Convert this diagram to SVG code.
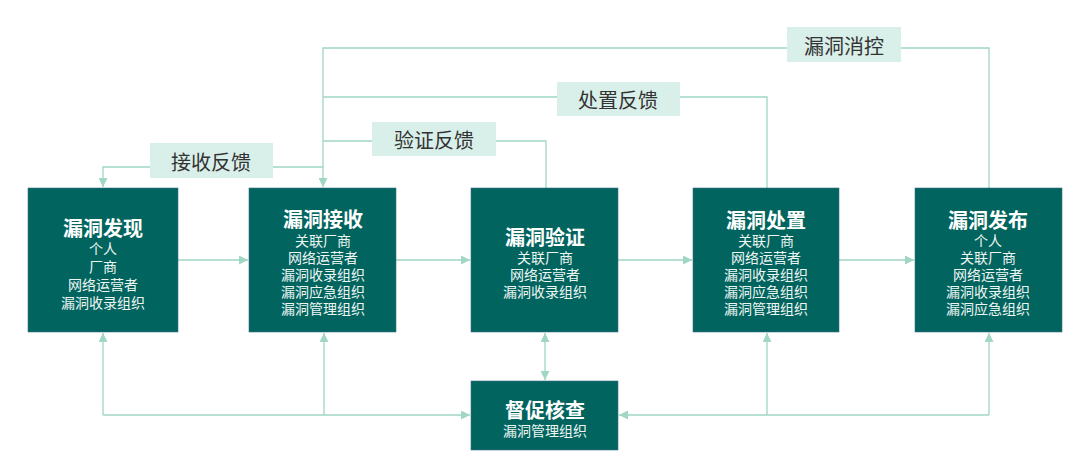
<svg xmlns="http://www.w3.org/2000/svg" width="1080" height="471" viewBox="0 0 1080 471">
<defs>
<marker id="ah" viewBox="0 0 10 10" refX="10" refY="5" markerWidth="9" markerHeight="9" markerUnits="userSpaceOnUse" orient="auto-start-reverse">
<path d="M0,0 L10,5 L0,10 z" fill="#9fd6c4"/>
</marker>
<style>
.box{fill:#02645e;stroke:#3f6f86;stroke-width:0.6}
.lbl{fill:#d9efe9}
.ttl{font-family:"Noto Sans CJK SC","Noto Sans",sans-serif;font-size:20px;font-weight:bold;fill:#ffffff;text-anchor:middle;dominant-baseline:central}
.sub{font-family:"Noto Sans CJK SC","Noto Sans",sans-serif;font-size:14px;fill:#eef6f4;text-anchor:middle;dominant-baseline:central}
.lt{font-family:"Noto Sans CJK SC","Noto Sans",sans-serif;font-size:20px;fill:#333333;text-anchor:middle;dominant-baseline:central}
.c{fill:none;stroke:#9fd6c4;stroke-width:1.3}
.a{marker-end:url(#ah)}
</style>
</defs>
<rect width="1080" height="471" fill="#ffffff"/>
<g id="connectors">
<path class="c a" d="M178,260 H248"/>
<path class="c a" d="M396,260 H470"/>
<path class="c a" d="M618,260 H692"/>
<path class="c a" d="M839,260 H914"/>
<path class="c a" d="M989,188 V48 H323 V187"/>
<path class="c" d="M767,188 V97 H323"/>
<path class="c" d="M546,188 V141 H323"/>
<path class="c a" d="M323,167 H103 V187"/>
<path class="c a" d="M103,415 V333"/>
<path class="c a" d="M103,415 H470"/>
<path class="c a" d="M324,415 V333"/>
<path class="c a" d="M989,415 H619"/>
<path class="c a" d="M767,415 V333"/>
<path class="c a" d="M989,415 V333"/>
<path class="c a" style="marker-start:url(#ah)" d="M545,333 V380"/>
</g>
<g id="label-xiaokong"><rect class="lbl" x="787" y="27" width="114" height="35"/><text class="lt" x="844" y="45">漏洞消控</text></g>
<g id="label-chuzhi"><rect class="lbl" x="557" y="82" width="123" height="34"/><text class="lt" x="618" y="99">处置反馈</text></g>
<g id="label-yanzheng"><rect class="lbl" x="372" y="122" width="124" height="34"/><text class="lt" x="434" y="139">验证反馈</text></g>
<g id="label-jieshou"><rect class="lbl" x="150" y="143" width="123" height="35"/><text class="lt" x="211" y="161">接收反馈</text></g>
<g id="node-faxian">
<rect class="box" x="28" y="188" width="150" height="144"/>
<text class="ttl" x="103" y="227">漏洞发现</text>
<text class="sub" x="103" y="248">个人</text>
<text class="sub" x="103" y="266">厂商</text>
<text class="sub" x="103" y="284">网络运营者</text>
<text class="sub" x="103" y="302">漏洞收录组织</text>
</g>
<g id="node-jieshou">
<rect class="box" x="249" y="188" width="147" height="144"/>
<text class="ttl" x="323" y="218">漏洞接收</text>
<text class="sub" x="323" y="240">关联厂商</text>
<text class="sub" x="323" y="257">网络运营者</text>
<text class="sub" x="323" y="274">漏洞收录组织</text>
<text class="sub" x="323" y="291">漏洞应急组织</text>
<text class="sub" x="323" y="308">漏洞管理组织</text>
</g>
<g id="node-yanzheng">
<rect class="box" x="471" y="188" width="147" height="144"/>
<text class="ttl" x="545" y="236">漏洞验证</text>
<text class="sub" x="545" y="257">关联厂商</text>
<text class="sub" x="545" y="274">网络运营者</text>
<text class="sub" x="545" y="291">漏洞收录组织</text>
</g>
<g id="node-chuzhi">
<rect class="box" x="693" y="188" width="146" height="144"/>
<text class="ttl" x="766" y="219">漏洞处置</text>
<text class="sub" x="766" y="240">关联厂商</text>
<text class="sub" x="766" y="257">网络运营者</text>
<text class="sub" x="766" y="274">漏洞收录组织</text>
<text class="sub" x="766" y="291">漏洞应急组织</text>
<text class="sub" x="766" y="308">漏洞管理组织</text>
</g>
<g id="node-fabu">
<rect class="box" x="915" y="188" width="147" height="144"/>
<text class="ttl" x="988" y="219">漏洞发布</text>
<text class="sub" x="988" y="240">个人</text>
<text class="sub" x="988" y="257">关联厂商</text>
<text class="sub" x="988" y="274">网络运营者</text>
<text class="sub" x="988" y="291">漏洞收录组织</text>
<text class="sub" x="988" y="308">漏洞应急组织</text>
</g>
<g id="node-ducu">
<rect class="box" x="471" y="381" width="147" height="69"/>
<text class="ttl" x="545" y="409">督促核查</text>
<text class="sub" x="545" y="430">漏洞管理组织</text>
</g>
</svg>
